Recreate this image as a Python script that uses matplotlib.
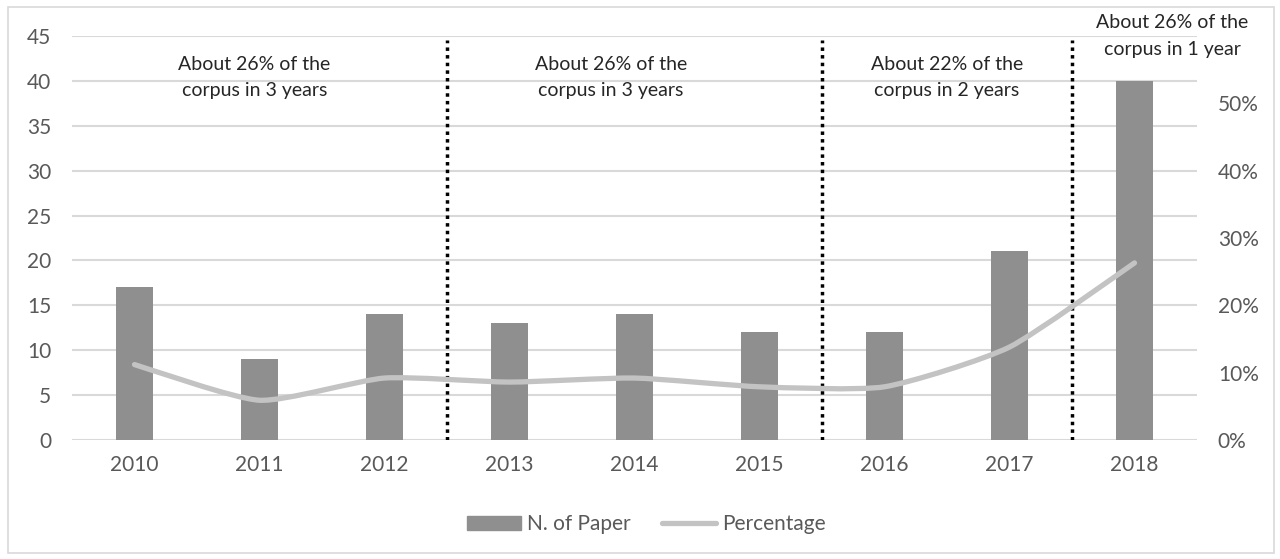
import matplotlib
matplotlib.use("Agg")
import matplotlib.pyplot as plt
import numpy as np
from matplotlib.path import Path
from matplotlib.patches import PathPatch, Rectangle
from matplotlib.lines import Line2D

years = ["2010", "2011", "2012", "2013", "2014", "2015", "2016", "2017", "2018"]
papers = [17, 9, 14, 13, 14, 12, 12, 21, 40]
percentage = [11.2, 5.9, 9.2, 8.6, 9.2, 7.9, 7.9, 13.8, 26.3]

# period separators (between categories) and the notes above each period
separators = [2.5, 5.5, 7.5]
notes = ["About 26% of the\ncorpus in 3 years",
         "About 26% of the\ncorpus in 3 years",
         "About 22% of the\ncorpus in 2 years",
         "About 26% of the\ncorpus in 1 year"]
note_x = [0.96, 3.81, 6.5, 8.3]
note_y = [42.8, 42.8, 42.8, 47.4]

plt.rcParams['font.family'] = ['Lato', 'DejaVu Sans']

BAR = "#8f8f8f"
LINE = "#c3c3c3"
GRID = "#d9d9d9"
TXT = "#595959"


def smooth_path(xs, ys, k=10.0):
    # cubic bezier through the points (Excel style smoothed line)
    pts = np.column_stack([xs, ys]).astype(float)
    n = len(pts)
    verts = [pts[0]]
    codes = [Path.MOVETO]
    for i in range(n - 1):
        p0 = pts[i - 1] if i > 0 else pts[i]
        p1 = pts[i]
        p2 = pts[i + 1]
        p3 = pts[i + 2] if i + 2 < n else pts[i + 1]
        c1 = p1 + (p2 - p0) / k
        c2 = p2 - (p3 - p1) / k
        verts += [c1, c2, p2]
        codes += [Path.CURVE4] * 3
    return Path(verts, codes)


def main():
    fig = plt.figure(figsize=(12.8, 5.59), dpi=100)
    fig.patches.append(Rectangle((8 / 1280, 6 / 559), 1266 / 1280, 546 / 559,
                                 transform=fig.transFigure, fill=False,
                                 edgecolor="#d9d9d9", linewidth=1.2))
    ax = fig.add_axes([0.05625, 0.2129, 0.8789, 0.7227])
    x = np.arange(len(years))

    ax.bar(x, papers, width=0.3, color=BAR, zorder=2)
    ax.set_ylim(0, 45)
    ax.set_xlim(-0.5, len(years) - 0.5)
    ax.set_yticks(range(0, 46, 5))
    ax.set_xticks(x)
    ax.set_xticklabels(years)
    ax.yaxis.grid(True, color=GRID, linewidth=1.5, zorder=0)
    ax.set_axisbelow(True)
    for s in ax.spines.values():
        s.set_visible(False)
    ax.tick_params(axis='both', length=0, colors=TXT, labelsize=15)
    ax.tick_params(axis='y', pad=15)
    ax.tick_params(axis='x', pad=11)

    for sx in separators:
        ax.plot([sx, sx], [0, 44.6], color="black", linestyle=(0, (1, 1.2)),
                linewidth=2.5, zorder=4)

    for tx, ty, t in zip(note_x, note_y, notes):
        ax.text(tx, ty, t, ha="center", va="top", fontsize=14,
                color="#262626", linespacing=1.65, zorder=5, clip_on=False)

    ax2 = ax.twinx()
    ax2.set_ylim(0, 60)
    ax2.set_yticks(range(0, 51, 10))
    ax2.set_yticklabels([f"{v}%" for v in range(0, 51, 10)])
    for s in ax2.spines.values():
        s.set_visible(False)
    ax2.tick_params(axis='y', length=0, colors=TXT, labelsize=15, pad=15)
    patch = PathPatch(smooth_path(x, percentage), fill=False, edgecolor=LINE,
                      linewidth=3.8, capstyle="round", transform=ax2.transData,
                      zorder=3)
    ax2.add_patch(patch)

    handles = [Rectangle((0, 0), 1, 1, color=BAR),
               Line2D([0], [0], color=LINE, linewidth=3.8, solid_capstyle="round")]
    fig.legend(handles, ["N. of Paper", "Percentage"], loc="center",
               bbox_to_anchor=(0.505, 0.062), ncol=2, frameon=False,
               fontsize=15, labelcolor=TXT, handlelength=2.6, handletextpad=0.3,
               columnspacing=1.5)

    fig.savefig("out.png", dpi=100)


if __name__ == '__main__':
    main()
